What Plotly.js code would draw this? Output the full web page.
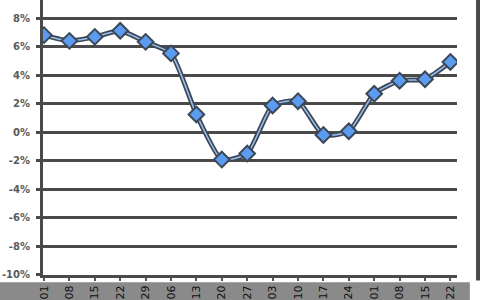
<!DOCTYPE html>
<html>
<head>
<meta charset="utf-8">
<script src="https://cdn.plot.ly/plotly-3.0.1.min.js"></script>
<style>html,body{margin:0;padding:0;background:#fff;}#chart{width:480px;height:300px;}</style>
</head>
<body>
<div id="chart"></div>
<script>
// Category tick labels (day of week-dates)
var categories = ["01","08","15","22","29","06","13","20","27","03","10","17","24","01","08","15","22"];
// Series values in percent
var values = [6.82, 6.42, 6.70, 7.13, 6.35, 5.54, 1.25, -1.92, -1.5, 1.88, 2.18, -0.19, 0.07, 2.7, 3.62, 3.72, 4.94];
// Y tick labels
var yTickVals = [8, 6, 4, 2, 0, -2, -4, -6, -8, -10];
var yTickText = yTickVals.map(function(v){ return v + "%"; });

var xIdx = categories.map(function(c, i){ return i; });

var outline = {
  x: xIdx, y: values, type: "scatter", mode: "lines",
  line: {color: "#3c4858", width: 5, shape: "spline", smoothing: 0.55},
  hoverinfo: "skip", showlegend: false
};
var main = {
  x: xIdx, y: values, type: "scatter", mode: "lines+markers",
  line: {color: "#9dbfeb", width: 1.5, shape: "spline", smoothing: 0.55},
  marker: {symbol: "diamond", size: 12, color: "#5b9cf0", line: {color: "#3c4858", width: 2}},
  showlegend: false
};

var layout = {
  width: 480, height: 300,
  margin: {l: 43, r: 23, t: 0, b: 25, pad: 0},
  paper_bgcolor: "#ffffff", plot_bgcolor: "#ffffff",
  showlegend: false,
  xaxis: {
    range: [-0.04, 16.26],
    tickvals: xIdx, ticktext: categories,
    tickangle: -90,
    ticks: "outside", ticklen: 3, tickwidth: 2, tickcolor: "#555555",
    showgrid: false, zeroline: false,
    showline: true, linecolor: "#4a4a4a", linewidth: 3,
    tickfont: {family: "DejaVu Sans", size: 11, color: "#111111"}
  },
  yaxis: {
    range: [-10.03, 9.29],
    tickvals: yTickVals, ticktext: yTickText,
    ticks: "outside", ticklen: 4, tickwidth: 3, tickcolor: "#4a4a4a",
    ticklabelstandoff: 4,
    showgrid: true, gridcolor: "#4a4a4a", gridwidth: 3,
    zeroline: false,
    showline: true, linecolor: "#4a4a4a", linewidth: 3,
    tickfont: {family: "DejaVu Sans", size: 10, color: "#5a5a5a", weight: "bold"}
  },
  shapes: [
    {type: "rect", xref: "paper", yref: "paper", x0: -0.11, x1: 1.031, y0: -0.026, y1: -0.1,
     fillcolor: "#8a8a8a", line: {width: 0}, layer: "below"},
    {type: "rect", xref: "paper", yref: "paper", x0: 1.046, x1: 1.06, y0: 1.0, y1: -0.02,
     fillcolor: "#4a4a4a", line: {width: 0}, layer: "below"}
  ]
};

Plotly.newPlot("chart", [outline, main], layout, {displayModeBar: false, staticPlot: true});
</script>
</body>
</html>
